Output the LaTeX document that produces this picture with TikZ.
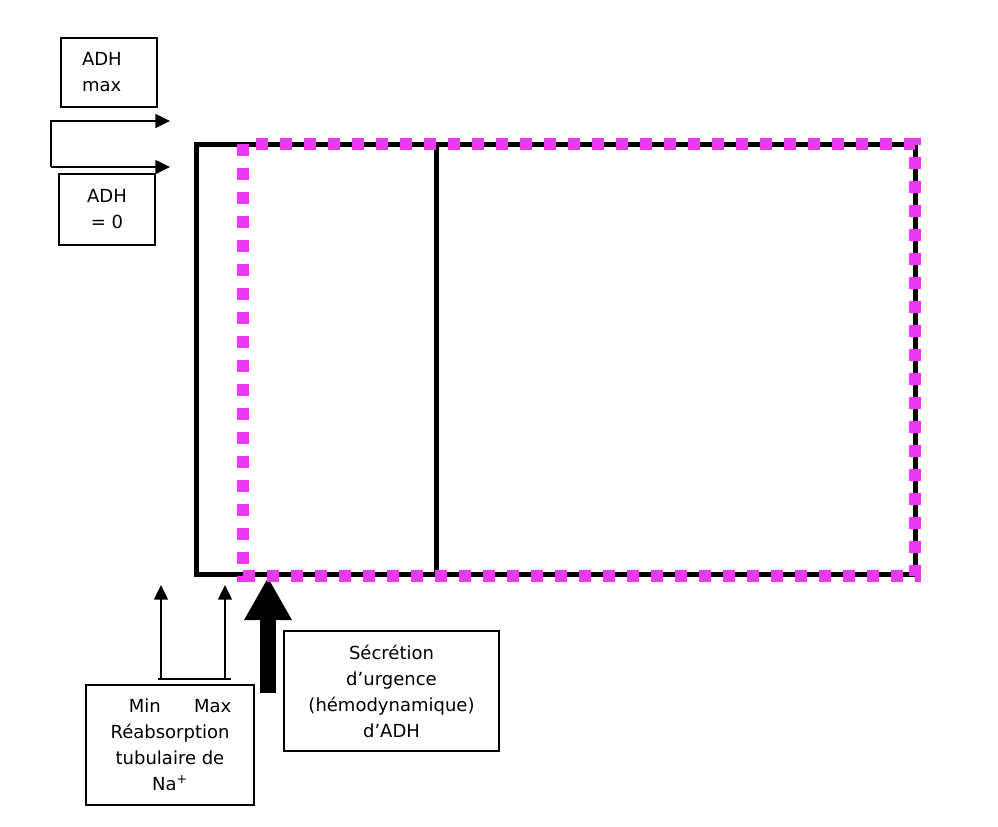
\documentclass[tikz,border=0pt]{standalone}
\usepackage{fontspec}
\setmainfont{DejaVu Sans}
\usetikzlibrary{arrows.meta,positioning}
\definecolor{adhpink}{RGB}{232,58,240}

\begin{document}
\begin{tikzpicture}[x=0.75pt, y=-0.75pt,
  every node/.style={font=\fontsize{13.5}{19.5}\selectfont},
  txtbox/.style={draw, line width=1pt, align=center, inner sep=0pt},
  thinarrow/.style={line width=1.1pt, -{Triangle[length=11pt,width=10.5pt]}}]
  \useasboundingbox (0,0) rectangle (998,826);
  % ADH boxes, top left
  \node[txtbox, minimum width=72pt, minimum height=51.75pt, inner xsep=15.75pt,
        text width=40.5pt, align=left] (adhmax) at (109,72.5) {ADH\\max};
  \node[txtbox, minimum width=72pt, minimum height=53.25pt] (adhzero) at (107,209.5) {ADH\\= 0};
  \coordinate (loopup) at (51,121);
  \coordinate (loopdown) at (51,167);
  \coordinate (tipup) at (170,121);
  \coordinate (tipdown) at (170,167);
  \draw[thinarrow] (loopdown) -- (loopup) -- (tipup);
  \draw[thinarrow] (loopdown) -- (tipdown);
  % emergency secretion arrow
  \coordinate (urgfoot) at (268,693);
  \coordinate (urgtip) at (268,578);
  \draw[line width=12pt, -{Triangle[length=31.5pt,width=36pt,line width=0pt]}] (urgfoot) -- (urgtip);
  % main frame
  \draw[line width=3.75pt] (196,144.5) rectangle (915.5,574);
  \draw[line width=3.75pt] (436,144.5) -- (436,574);
  % pink dotted frame
  \draw[adhpink, line width=9pt, dash pattern=on 9pt off 9pt]
    (242.5,144) -- (242.5,576) -- (915,576) -- (915,144) -- (245,144);
  % Na reabsorption, bottom left
  \node[txtbox, minimum width=126pt, minimum height=90pt] (reabs) at (170,745)
    {\hspace*{15pt}Min\hspace{25pt}Max\\Réabsorption\\tubulaire de\\Na\textsuperscript{+}};
  \coordinate (barleft) at (158,679);
  \coordinate (barright) at (231,679);
  \coordinate (minfoot) at (161,679);
  \coordinate (maxfoot) at (225,679);
  \coordinate (mintip) at (161,585);
  \coordinate (maxtip) at (225,585);
  \draw[line width=1.1pt] (barleft) -- (barright);
  \draw[thinarrow] (minfoot) -- (mintip);
  \draw[thinarrow] (maxfoot) -- (maxtip);
  % emergency secretion label
  \node[txtbox, minimum width=161.25pt, minimum height=90pt] (urgence) at (391.5,691)
    {Sécrétion\\d’urgence\\(hémodynamique)\\d’ADH};
\end{tikzpicture}
\end{document}
